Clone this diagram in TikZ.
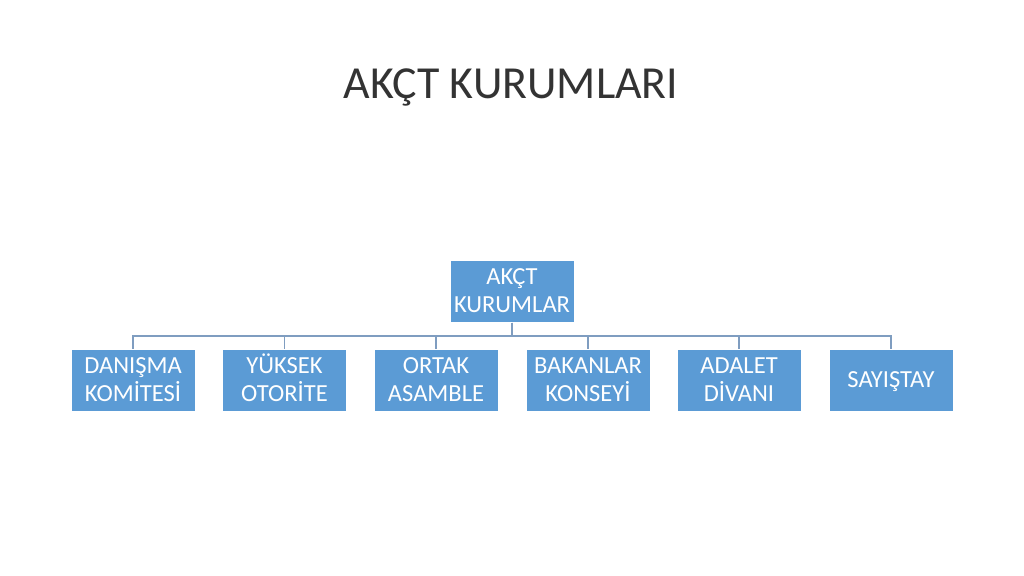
\documentclass[tikz,border=0pt]{standalone}
\usepackage{fontspec}
\setmainfont{Carlito}
\newcommand\topstrut{\rule{0pt}{18.75pt}}
\newcommand\botstrut{\rule[-5.35pt]{0pt}{5.35pt}}
\begin{document}
\begin{tikzpicture}[x=0.9375pt,y=-0.9375pt,
  orgbox/.style={rectangle, fill=boxblue, draw=white, line width=0.6pt, minimum width=124*0.9375pt, minimum height=62*0.9375pt, inner sep=0pt, align=center, text=white, font=\fontsize{23pt}{26pt}\selectfont},
  link/.style={draw=linkblue, line width=1.1pt}]
\definecolor{boxblue}{HTML}{5B9BD5}
\definecolor{linkblue}{HTML}{7F9DC0}
\useasboundingbox (0,0) rectangle (1024,576);
\fill[white] (0,0) rectangle (1024,576);
\node[anchor=base, font=\fontsize{43pt}{50pt}\selectfont, text=black!80] (title) at (511,98.3) {AKÇT KURUMLARI};
\node[orgbox] (root) at (512,291.5) {\topstrut AKÇT\\KURUMLAR\botstrut};
\node[orgbox] (c1) at (133,380) {\topstrut DANIŞMA\\KOMİTESİ\botstrut};
\node[orgbox] (c2) at (284.5,380) {\topstrut YÜKSEK\\OTORİTE\botstrut};
\node[orgbox] (c3) at (436,380) {\topstrut ORTAK\\ASAMBLE\botstrut};
\node[orgbox] (c4) at (588,380) {\topstrut BAKANLAR\\KONSEYİ\botstrut};
\node[orgbox] (c5) at (739,380) {\topstrut ADALET\\DİVANI\botstrut};
\node[orgbox] (c6) at (891,380) {\topstrut SAYIŞTAY\botstrut};
\coordinate (bar) at (512,336);
\foreach \c in {c1,c2,c3,c4,c5,c6}{
  \draw[link] (root.south) -- (bar) -| (\c.north);
}
\end{tikzpicture}
\end{document}
